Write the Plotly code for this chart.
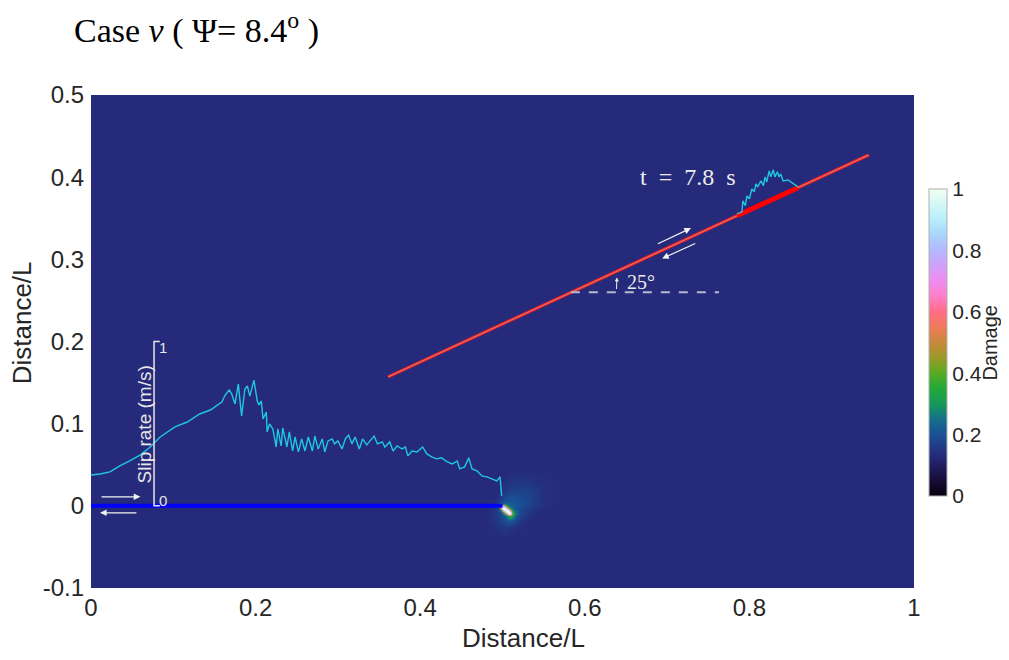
import plotly.graph_objects as go

# ---------------- data ----------------
# slip rate along the horizontal fault (x in Distance/L, slip rate in m/s)
slip_x = [0.000, 0.011, 0.023, 0.035, 0.047, 0.060, 0.072, 0.084, 0.102, 0.117,
          0.132, 0.145, 0.154, 0.159, 0.163, 0.168, 0.171, 0.175, 0.179, 0.183,
          0.187, 0.190, 0.193, 0.198, 0.202, 0.204, 0.207, 0.209, 0.213, 0.214,
          0.217, 0.221, 0.225, 0.227, 0.231, 0.233, 0.238, 0.241, 0.245, 0.248,
          0.252, 0.256, 0.260, 0.264, 0.269, 0.272, 0.276, 0.281, 0.284, 0.288,
          0.293, 0.296, 0.300, 0.305, 0.309, 0.313, 0.317, 0.321, 0.326, 0.330,
          0.335, 0.339, 0.344, 0.348, 0.354, 0.357, 0.363, 0.367, 0.372, 0.378,
          0.382, 0.385, 0.390, 0.396, 0.403, 0.408, 0.414, 0.420, 0.426, 0.433,
          0.439, 0.445, 0.448, 0.454, 0.459, 0.463, 0.469, 0.475, 0.481, 0.487,
          0.493, 0.497, 0.499]
slip_v = [0.188, 0.194, 0.207, 0.243, 0.273, 0.310, 0.358, 0.419, 0.480, 0.510,
          0.559, 0.583, 0.614, 0.632, 0.674, 0.705, 0.680, 0.620, 0.741, 0.547,
          0.711, 0.729, 0.668, 0.765, 0.638, 0.614, 0.638, 0.529, 0.571, 0.450,
          0.498, 0.468, 0.358, 0.468, 0.365, 0.474, 0.358, 0.450, 0.334, 0.419,
          0.328, 0.407, 0.334, 0.419, 0.334, 0.425, 0.346, 0.407, 0.328, 0.395,
          0.407, 0.377, 0.395, 0.346, 0.407, 0.431, 0.377, 0.419, 0.346, 0.407,
          0.371, 0.395, 0.425, 0.377, 0.389, 0.358, 0.389, 0.334, 0.365, 0.346,
          0.358, 0.304, 0.334, 0.328, 0.358, 0.316, 0.298, 0.286, 0.292, 0.267,
          0.255, 0.273, 0.225, 0.237, 0.292, 0.225, 0.213, 0.182, 0.176, 0.164,
          0.152, 0.176, 0.061]

# slip rate along the inclined fault (x in Distance/L, slip rate in m/s)
slip2_x = [0.785, 0.791, 0.792, 0.795, 0.797, 0.800, 0.803, 0.806, 0.808, 0.810,
           0.814, 0.817, 0.819, 0.821, 0.824, 0.826, 0.829, 0.831, 0.834, 0.836,
           0.838, 0.841, 0.847, 0.858, 0.859]
slip2_v = [0.012, 0.010, 0.074, 0.038, 0.093, 0.069, 0.122, 0.098, 0.141, 0.117,
           0.145, 0.109, 0.158, 0.122, 0.183, 0.142, 0.178, 0.130, 0.155, 0.119,
           0.131, 0.083, 0.075, 0.013, 0.005]

# fault geometry
fault1_x = [0.0, 0.5]
fault1_y = [0.0, 0.0]
fault2_x = [0.361, 0.945]
fault2_y = [0.157, 0.427]
rupture_x = [0.785, 0.859]
ref_line_x = [0.583, 0.763]
ref_line_y = [0.26, 0.26]
slip_scale = 0.2          # Distance/L per 1 m/s

# damage field around the fault tip
dmg_x = [0.46, 0.48, 0.49, 0.495, 0.4975, 0.50, 0.5025, 0.505, 0.5075, 0.51,
         0.5125, 0.515, 0.52, 0.53, 0.54, 0.55, 0.57]
dmg_y = [-0.04, -0.025, -0.0175, -0.0125, -0.01, -0.0075, -0.005, -0.0025, 0.0,
         0.0025, 0.005, 0.01, 0.02, 0.03, 0.045]
b = 0.13
dmg_z = [
    [b, b, b, b, b, b, b, b, b, b, b, b, b, b, b, b, b],
    [b, b, 0.14, 0.15, 0.15, 0.16, 0.16, 0.16, 0.16, 0.15, 0.15, 0.14, 0.14, b, b, b, b],
    [b, b, 0.15, 0.16, 0.17, 0.18, 0.19, 0.20, 0.21, 0.21, 0.20, 0.18, 0.16, 0.14, b, b, b],
    [b, b, 0.15, 0.17, 0.18, 0.20, 0.22, 0.26, 0.32, 0.38, 0.32, 0.22, 0.18, 0.15, b, b, b],
    [b, b, 0.15, 0.17, 0.19, 0.22, 0.30, 0.55, 1.00, 0.95, 0.40, 0.25, 0.19, 0.15, 0.14, b, b],
    [b, b, 0.15, 0.18, 0.20, 0.30, 0.70, 1.00, 1.00, 0.90, 0.35, 0.24, 0.19, 0.16, 0.14, b, b],
    [b, b, 0.15, 0.18, 0.25, 0.80, 1.00, 1.00, 0.95, 0.45, 0.28, 0.22, 0.19, 0.16, 0.14, b, b],
    [b, b, 0.15, 0.18, 0.50, 1.00, 1.00, 0.85, 0.40, 0.27, 0.24, 0.21, 0.19, 0.17, 0.15, 0.14, b],
    [b, b, 0.15, 0.18, 0.30, 0.80, 0.70, 0.35, 0.26, 0.24, 0.22, 0.21, 0.20, 0.18, 0.16, 0.14, b],
    [b, b, 0.14, 0.17, 0.20, 0.24, 0.25, 0.24, 0.23, 0.22, 0.22, 0.21, 0.20, 0.18, 0.16, 0.14, b],
    [b, b, 0.14, 0.16, 0.18, 0.19, 0.20, 0.21, 0.21, 0.21, 0.21, 0.20, 0.20, 0.18, 0.16, 0.14, b],
    [b, b, b, 0.15, 0.16, 0.17, 0.18, 0.19, 0.19, 0.20, 0.20, 0.20, 0.19, 0.18, 0.16, 0.14, b],
    [b, b, b, b, 0.14, 0.15, 0.15, 0.16, 0.16, 0.17, 0.17, 0.17, 0.17, 0.17, 0.16, 0.14, b],
    [b, b, b, b, b, b, 0.14, 0.14, 0.14, 0.15, 0.15, 0.15, 0.15, 0.15, 0.14, 0.14, b],
    [b, b, b, b, b, b, b, b, b, b, b, b, b, b, b, b, b],
]

x_ticks = [0, 0.2, 0.4, 0.6, 0.8, 1]
x_ticktext = ["0", "0.2", "0.4", "0.6", "0.8", "1"]
y_ticks = [-0.1, 0, 0.1, 0.2, 0.3, 0.4, 0.5]
y_ticktext = ["-0.1", "0", "0.1", "0.2", "0.3", "0.4", "0.5"]
cb_ticks = [0, 0.2, 0.4, 0.6, 0.8, 1]
cb_ticktext = ["0", "0.2", "0.4", "0.6", "0.8", "1"]

BG = "#262a7a"
colorscale = [
    [0.00, "#080010"], [0.06, "#1a0f3e"], [0.13, BG], [0.20, "#1a5096"],
    [0.25, "#14708a"], [0.30, "#169858"], [0.35, "#22a83a"], [0.40, "#58aa22"],
    [0.45, "#9a9a28"], [0.50, "#c8883a"], [0.55, "#f07a5a"], [0.60, "#ff6e86"],
    [0.65, "#ff7ec8"], [0.70, "#f08cf0"], [0.75, "#d0a0f8"], [0.80, "#b4b8ff"],
    [0.85, "#a8d4fa"], [0.90, "#b8eefa"], [1.00, "#f0fff2"],
]
SANS = "Liberation Sans"
SERIF = "Liberation Serif"

fig = go.Figure()

fig.add_trace(go.Heatmap(
    x=dmg_x, y=dmg_y, z=dmg_z, zmin=0, zmax=1, zsmooth="best",
    colorscale=colorscale, hoverinfo="skip",
    colorbar=dict(
        x=1.018, xanchor="left", xpad=0, y=0.498, yanchor="middle", ypad=0,
        len=0.623, lenmode="fraction", thickness=18,
        outlinecolor="#b0b0b0", outlinewidth=1, borderwidth=0,
        tickvals=cb_ticks, ticktext=cb_ticktext, ticks="",
        tickfont=dict(size=21, color="#262626", family=SANS),
    ),
))

# horizontal fault
fig.add_trace(go.Scatter(x=fault1_x, y=fault1_y, mode="lines",
                         line=dict(color="#0000ff", width=4), hoverinfo="skip"))
# slip rate on horizontal fault
fig.add_trace(go.Scatter(x=slip_x, y=[v * slip_scale for v in slip_v], mode="lines",
                         line=dict(color="#1fc8e0", width=1.4), hoverinfo="skip"))
# inclined fault
fig.add_trace(go.Scatter(x=fault2_x, y=fault2_y, mode="lines",
                         line=dict(color="#ff1a1a", width=3.2), hoverinfo="skip"))
fig.add_trace(go.Scatter(x=fault2_x, y=fault2_y, mode="lines",
                         line=dict(color="#b49a9a", width=0.9), hoverinfo="skip"))
slope = (fault2_y[1] - fault2_y[0]) / (fault2_x[1] - fault2_x[0])


def on_fault(x):
    return fault2_y[0] + slope * (x - fault2_x[0])


fig.add_trace(go.Scatter(x=rupture_x, y=[on_fault(x) for x in rupture_x], mode="lines",
                         line=dict(color="#ff0000", width=5), hoverinfo="skip"))
fig.add_trace(go.Scatter(x=slip2_x, y=[on_fault(x) + v * slip_scale for x, v in zip(slip2_x, slip2_v)],
                         mode="lines", line=dict(color="#1fc8e0", width=1.4), hoverinfo="skip"))
# reference dashed line
fig.add_trace(go.Scatter(x=ref_line_x, y=ref_line_y, mode="lines",
                         line=dict(color="#b8b8d0", width=2, dash="dash"), hoverinfo="skip"))
# slip-rate scale bar
sb_x = 0.0766
fig.add_trace(go.Scatter(x=[sb_x + 0.007, sb_x, sb_x, sb_x + 0.007],
                         y=[slip_scale, slip_scale, 0, 0], mode="lines",
                         line=dict(color="#e6e6e6", width=1.5), hoverinfo="skip"))

annotations = []
# arrows
arrows = [
    ((0.011, 0.011), (0.060, 0.011)),
    ((0.057, -0.0085), (0.011, -0.0085)),
    ((0.687, 0.318), (0.729, 0.338)),
    ((0.736, 0.320), (0.694, 0.301)),
]
for (tx, ty), (hx, hy) in arrows:
    annotations.append(dict(x=hx, y=hy, ax=tx, ay=ty, xref="x", yref="y", axref="x", ayref="y",
                            showarrow=True, arrowhead=2, arrowsize=1.1, arrowwidth=1.2,
                            arrowcolor="#f2f2f2", text=""))
# small angle arrow
annotations.append(dict(x=0.639, y=0.278, ax=0.6385, ay=0.262, xref="x", yref="y", axref="x", ayref="y",
                        showarrow=True, arrowhead=2, arrowsize=0.8, arrowwidth=1,
                        arrowcolor="#f2f2f2", text=""))
annotations += [
    dict(x=0.0875, y=0.193, xref="x", yref="y", text="1", showarrow=False,
         font=dict(size=15, color="#e6e6e6", family=SANS)),
    dict(x=0.0875, y=0.006, xref="x", yref="y", text="0", showarrow=False,
         font=dict(size=15, color="#e6e6e6", family=SANS)),
    dict(x=0.0644, y=0.099, xref="x", yref="y", text="Slip rate (m/s)", showarrow=False,
         textangle=-90, font=dict(size=19, color="#e6e6e6", family=SANS)),
    dict(x=0.725, y=0.4, xref="x", yref="y", text="t&nbsp; =&nbsp; 7.8&nbsp; s", showarrow=False,
         font=dict(size=24, color="#ececec", family=SERIF)),
    dict(x=0.668, y=0.273, xref="x", yref="y", text="25°", showarrow=False,
         font=dict(size=20, color="#ececec", family=SERIF)),
    # title
    dict(x=-0.0231, y=1.135, xref="paper", yref="paper", xanchor="left", yanchor="middle",
         text="Case <i>ν</i> ( Ψ= 8.4<sup>o</sup> )", showarrow=False,
         font=dict(size=34, color="#000000", family=SERIF)),
    # axis titles
    dict(x=0.525, y=-0.1014, xref="paper", yref="paper", xanchor="center", yanchor="middle",
         text="Distance/L", showarrow=False,
         font=dict(size=26, color="#262626", family=SANS)),
    dict(x=-0.0838, y=0.537, xref="paper", yref="paper", xanchor="center", yanchor="middle",
         text="Distance/L", showarrow=False,
         textangle=-90, font=dict(size=26, color="#262626", family=SANS)),
    # colorbar title
    dict(x=1.0925, y=0.498, xref="paper", yref="paper", xanchor="center", yanchor="middle",
         text="Damage", showarrow=False,
         textangle=-90, font=dict(size=20, color="#262626", family=SANS)),
]

# the page adds an 8 px body margin, so the figure is made smaller than the window
fig.update_layout(
    width=1001, height=644,
    margin=dict(l=83, r=95, t=87, b=64),
    paper_bgcolor="white", plot_bgcolor=BG,
    showlegend=False,
    font=dict(family=SANS, color="#262626"),
    annotations=annotations,
    xaxis=dict(range=[0, 1], tickvals=x_ticks, ticktext=x_ticktext, showgrid=False,
               zeroline=False, showline=False, ticks="", automargin=False,
               ticklabelstandoff=3, tickfont=dict(size=24, color="#262626")),
    yaxis=dict(range=[-0.1, 0.5], tickvals=y_ticks, ticktext=y_ticktext, showgrid=False,
               zeroline=False, showline=False, ticks="", automargin=False,
               ticklabelstandoff=6, tickfont=dict(size=24, color="#262626")),
)

fig.write_html("out.html")
